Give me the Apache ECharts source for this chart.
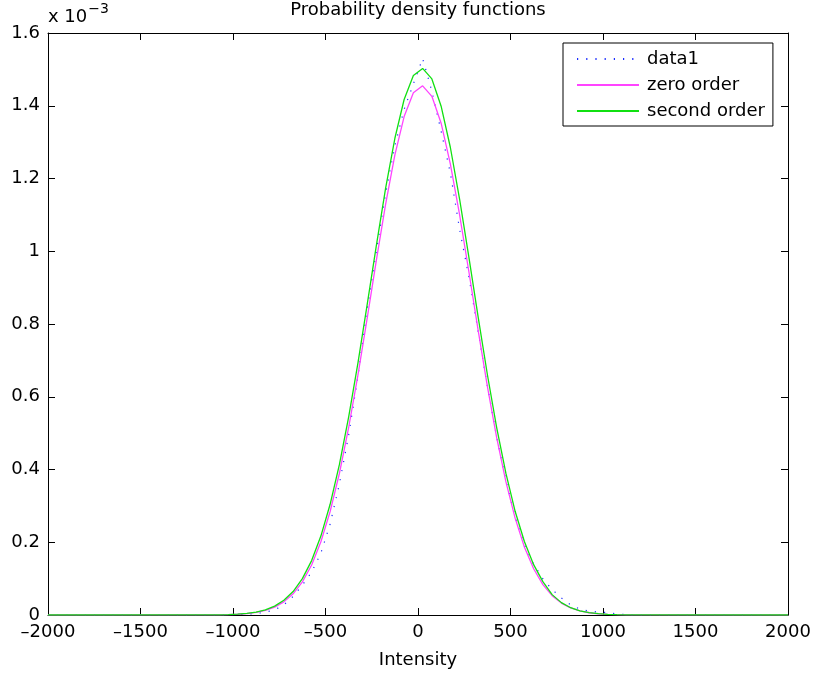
<!DOCTYPE html>
<html>
<head>
<meta charset="utf-8">
<script src="https://cdn.jsdelivr.net/npm/echarts@6/dist/echarts.min.js"></script>
<style>
html,body{margin:0;padding:0;background:#fff;}
#c{width:814px;height:676px;}
</style>
</head>
<body>
<div id="c"></div>
<script>
// Intensity values (bin centres)
var intensity = [-2000, -1175, -1125, -1075, -1025, -975, -925, -875, -825, -775, -725, -675, -625, -575, -525, -475, -425, -375, -325, -275, -225, -175, -125, -75, -25,
  25, 75, 125, 175, 225, 275, 325, 375, 425, 475, 525, 575, 625, 675, 725, 775, 825, 875, 925, 975, 1025, 1075, 1125, 1175, 2000];
// densities in units of 10^-3
var data1 = [0, 0, 0, 0, 0.0005, 0.0010, 0.0020, 0.0040, 0.0080, 0.0140, 0.0280, 0.0510, 0.0820, 0.1180, 0.1700, 0.2500, 0.3600, 0.4940, 0.6550, 0.8400, 1.0000, 1.1600, 1.2900, 1.3900, 1.4600,
  1.5300, 1.4400, 1.3300, 1.2150, 1.0600, 0.9300, 0.7800, 0.6300, 0.4900, 0.3700, 0.2700, 0.1920, 0.1400, 0.1000, 0.0700, 0.0470, 0.0280, 0.0160, 0.0110, 0.0080, 0.0070, 0.0030, 0.0010, 0, 0];
var zeroOrder = [0, 0.0001, 0.0002, 0.0005, 0.0010, 0.0020, 0.0038, 0.0070, 0.0125, 0.0216, 0.0361, 0.0583, 0.0911, 0.1376, 0.2012, 0.2845, 0.3890, 0.5148, 0.6585, 0.8149, 0.9756, 1.1295, 1.2648, 1.3702, 1.4355,
  1.4548, 1.4259, 1.3520, 1.2398, 1.0997, 0.9436, 0.7831, 0.6286, 0.4880, 0.3665, 0.2663, 0.1871, 0.1271, 0.0836, 0.0531, 0.0327, 0.0194, 0.0112, 0.0062, 0.0033, 0.0017, 0.0009, 0.0004, 0.0002, 0];
var secondOrder = [0, 0.0001, 0.0003, 0.0006, 0.0012, 0.0024, 0.0045, 0.0081, 0.0143, 0.0245, 0.0404, 0.0645, 0.0999, 0.1496, 0.2170, 0.3044, 0.4133, 0.5438, 0.6920, 0.8524, 1.0163, 1.1733, 1.3106, 1.4172, 1.4833,
  1.5027, 1.4737, 1.3988, 1.2852, 1.1429, 0.9839, 0.8197, 0.6612, 0.5161, 0.3899, 0.2851, 0.2020, 0.1384, 0.0917, 0.0560, 0.0340, 0.0200, 0.0115, 0.0066, 0.0036, 0.0019, 0.0010, 0.0005, 0.0002, 0];
var seriesNames = ['data1', 'zero order', 'second order'];
var xTicks = {min: -2000, max: 2000, interval: 500};
var yTicks = {min: 0, max: 1.6, interval: 0.2};
var titleText = 'Probability density functions';
var xLabel = 'Intensity';

function pairs(xs, ys) { return xs.map(function (x, i) { return [x, ys[i]]; }); }

var FONT = 'DejaVu Sans';
var chart = echarts.init(document.getElementById('c'), null, {renderer: 'canvas'});
var axisCommon = {
  axisLine: {show: true, onZero: false, lineStyle: {color: '#000', width: 1}},
  axisTick: {show: true, inside: true, length: 7, lineStyle: {color: '#000', width: 1}},
  splitLine: {show: false},
  minorTick: {show: false}
};
function yFmt(v) { return (Math.round(v * 10) / 10).toString(); }
function xFmt(v) { var r = Math.round(v); return r < 0 ? '\u2013' + Math.abs(r) : String(r); }

chart.setOption({
  animation: false,
  backgroundColor: '#fff',
  title: {
    text: titleText, left: 418, top: 1, padding: 0, textAlign: 'center',
    textStyle: {fontFamily: FONT, fontSize: 18, fontWeight: 'normal', color: '#000'}
  },
  grid: {left: 48, right: 26, top: 33, bottom: 61, containLabel: false},
  legend: {
    data: seriesNames, orient: 'vertical', left: 563, top: 43,
    padding: [7, 8, 6, 13], itemGap: 8, itemWidth: 62, itemHeight: 14,
    borderColor: '#000', borderWidth: 1, backgroundColor: '#fff',
    itemStyle: {opacity: 0},
    textStyle: {fontFamily: FONT, fontSize: 18, color: '#000', padding: [0, 0, 0, 3]}
  },
  xAxis: [
    Object.assign({}, axisCommon, {
      type: 'value', position: 'bottom', min: xTicks.min, max: xTicks.max, interval: xTicks.interval,
      axisLabel: {show: true, margin: 8, fontFamily: FONT, fontSize: 18, color: '#000', formatter: xFmt, showMinLabel: true, showMaxLabel: true},
      name: xLabel, nameLocation: 'middle', nameGap: 36,
      nameTextStyle: {fontFamily: FONT, fontSize: 18, color: '#000'}
    }),
    Object.assign({}, axisCommon, {
      type: 'value', position: 'top', min: xTicks.min, max: xTicks.max, interval: xTicks.interval,
      axisLabel: {show: false}
    })
  ],
  yAxis: [
    Object.assign({}, axisCommon, {
      type: 'value', position: 'left', min: yTicks.min, max: yTicks.max, interval: yTicks.interval,
      axisLabel: {show: true, margin: 8, fontFamily: FONT, fontSize: 18, color: '#000', formatter: yFmt, showMinLabel: true, showMaxLabel: true},
      name: '{a|x 10}{b|\u22123}', nameLocation: 'end', nameGap: 1,
      nameTextStyle: {
        align: 'left', verticalAlign: 'bottom', fontFamily: FONT, color: '#000',
        rich: {
          a: {fontFamily: FONT, fontSize: 18, color: '#000'},
          b: {fontFamily: FONT, fontSize: 14, color: '#000', padding: [0, 0, 16, 1]}
        }
      }
    }),
    Object.assign({}, axisCommon, {
      type: 'value', position: 'right', min: yTicks.min, max: yTicks.max, interval: yTicks.interval,
      axisLabel: {show: false}
    })
  ],
  series: [
    {
      name: seriesNames[0], type: 'line', data: pairs(intensity, data1), symbol: 'none', showSymbol: false,
      xAxisIndex: 0, yAxisIndex: 0, z: 2,
      lineStyle: {color: '#1a2cff', width: 1.2, type: [1.2, 8], cap: 'butt'},
      itemStyle: {color: '#1a2cff'}
    },
    {
      name: seriesNames[1], type: 'line', data: pairs(intensity, zeroOrder), symbol: 'none', showSymbol: false,
      xAxisIndex: 0, yAxisIndex: 0, z: 3,
      lineStyle: {color: '#ff44ff', width: 1.3},
      itemStyle: {color: '#ff44ff'}
    },
    {
      name: seriesNames[2], type: 'line', data: pairs(intensity, secondOrder), symbol: 'none', showSymbol: false,
      xAxisIndex: 0, yAxisIndex: 0, z: 4,
      lineStyle: {color: '#11e011', width: 1.3},
      itemStyle: {color: '#11e011'}
    }
  ]
});
</script>
</body>
</html>
